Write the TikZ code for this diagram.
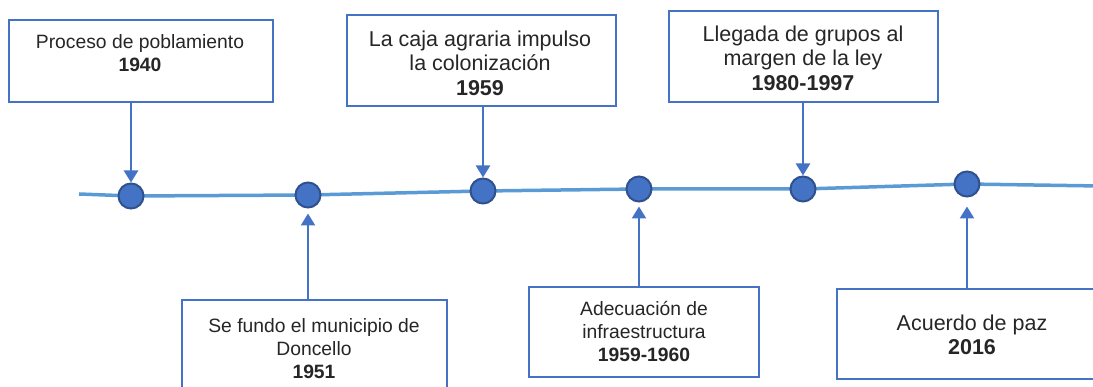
\documentclass[tikz,border=0pt]{standalone}
\usepackage{fontspec}
\setmainfont{Liberation Sans}
\usetikzlibrary{arrows.meta}
\definecolor{boxblue}{HTML}{4472C4}
\definecolor{lineblue}{HTML}{5B9BD5}
\definecolor{dotedge}{HTML}{2F528F}
\tikzset{
  evbox/.style={draw=boxblue, line width=2.5pt, fill=white, inner sep=0pt},
  evtxt/.style={align=center, inner sep=0pt, anchor=north, text=black!85},
  small/.style={font=\fontsize{19.3}{23}\selectfont},
  big/.style={font=\fontsize{21.5}{24.5}\selectfont},
  dot/.style={circle, fill=boxblue, draw=dotedge, line width=2pt, minimum size=25pt, inner sep=0pt},
  tl/.style={draw=lineblue, line width=3.5pt},
  arr/.style={draw=boxblue, line width=2.5pt, -{Triangle[width=14pt,length=12pt]}}
}
\begin{document}
\begin{tikzpicture}[x=1pt,y=-1pt]
\useasboundingbox (0,0) rectangle (1093,387);
% timeline
\coordinate (L) at (79,194);
\coordinate (R) at (1100,186);
\coordinate (p1) at (131,196);
\coordinate (p2) at (308,195);
\coordinate (p3) at (483,191);
\coordinate (p4) at (639,189);
\coordinate (p5) at (803,189);
\coordinate (p6) at (967,184);
\draw[tl] (L) -- (p1) -- (p2) -- (p3) -- (p4) -- (p5) -- (p6) -- (R);
\node[dot] (c1) at (p1) {};
\node[dot] (c2) at (p2) {};
\node[dot] (c3) at (p3) {};
\node[dot] (c4) at (p4) {};
\node[dot] (c5) at (p5) {};
\node[dot] (c6) at (p6) {};
% boxes
\node[evbox, minimum width=264pt, minimum height=82pt] (b1) at (141,61) {};
\node[evbox, minimum width=265pt, minimum height=100pt] (b2) at (314.5,350) {};
\node[evbox, minimum width=269pt, minimum height=91pt] (b3) at (481.5,60.5) {};
\node[evbox, minimum width=230pt, minimum height=90pt] (b4) at (644,332) {};
\node[evbox, minimum width=269pt, minimum height=91pt] (b5) at (803.5,56.5) {};
\node[evbox, minimum width=264pt, minimum height=90pt] (b6) at (969,334) {};
% texts
\node[evtxt, small] (t1) at (140,34.5) {Proceso de poblamiento\\\textbf{1940}};
\node[evtxt, small] (t2) at (314,318.5) {Se fundo el municipio de\\Doncello\\\textbf{1951}};
\node[evtxt, big] (t3) at (480,30.5) {La caja agraria impulso\\la colonización\\\textbf{1959}};
\node[evtxt, small] (t4) at (644,301.5) {Adecuación de\\infraestructura\\\textbf{1959-1960}};
\node[evtxt, big] (t5) at (803,25.5) {Llegada de grupos al\\margen de la ley\\\textbf{1980-1997}};
\node[evtxt, big] (t6) at (972,314.5) {Acuerdo de paz\\\textbf{2016}};
% arrows
\draw[arr] (c1 |- b1.south) -- (c1.north);
\draw[arr] (c3 |- b3.south) -- (c3.north);
\draw[arr] (c5 |- b5.south) -- (c5.north);
\draw[arr, shorten >=5pt] (c2 |- b2.north) -- (c2.south);
\draw[arr, shorten >=4pt] (c4 |- b4.north) -- (c4.south);
\draw[arr, shorten >=9pt] (c6 |- b6.north) -- (c6.south);
\end{tikzpicture}
\end{document}
